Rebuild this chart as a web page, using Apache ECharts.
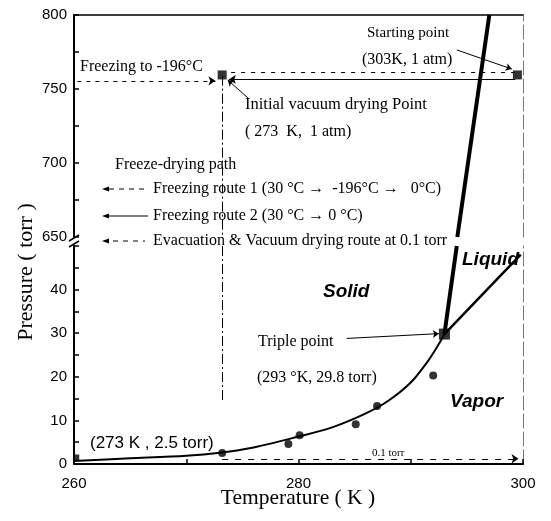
<!DOCTYPE html>
<html><head><meta charset="utf-8">
<script src="https://cdn.jsdelivr.net/npm/echarts@6/dist/echarts.min.js"></script>
<style>html,body{margin:0;padding:0;background:#fff}#c{width:551px;height:521px}</style>
</head><body><div id="c"></div>
<script>
// ---- data (K, torr) ----
const sublimationK = [260, 265, 270, 273, 276, 280, 283, 286, 288, 290, 291.5, 292.5, 293];
const sublimationP = [0.7, 1.3, 1.9, 2.6, 3.8, 6.3, 8.4, 11.6, 14.5, 18.7, 23.5, 27.5, 29.8];
const vaporK = [293, 296.5, 299.8];
const vaporP = [29.8, 39.2, 48];
const meltLowK = [293, 294.1];
const meltLowP = [29.8, 50];
const meltHighK = [294.15, 297.0];
const meltHighP = [650, 800];
const dotK = [273.2, 279.1, 280.1, 285.1, 287.0, 292.0];
const dotP = [2.5, 4.6, 6.6, 9.1, 13.3, 20.3];
const cornerK = [260.2];
const cornerP = [1.5];
const tripleK = [293.0];
const tripleP = [29.8];
const upperPointK = [273.2, 299.5];
const upperPointP = [759.5, 759.5];
// routes
const route1Out = [[299.3, 761], [273.6, 761]];
const route1Back = [[260.3, 755.5], [272.6, 755.5]];
const route2 = [[299.3, 756.5], [273.8, 756.5]];
const evacUpper = [[273.2, 759], [273.2, 650]];
const evacLower = [[273.2, 50], [273.2, 14.5]];
const evacBottom = [[273.2, 1.2], [299.6, 1.2]];
// annotation arrows
const startArrow = [[294.1, 776.4], [299.0, 763.5]];
const initArrow = [[275.5, 744], [273.7, 756]];
const tripleArrow = [[284.3, 28.8], [292.5, 29.9]];
// ticks
const xTickLabels = [260, 280, 300];
const lowerYLabels = [0, 10, 20, 30, 40];
const upperYLabels = [650, 700, 750, 800];

const zip = (a, b) => a.map((v, i) => [v, b[i]]);
const sans = 'Liberation Sans';

const chart = echarts.init(document.getElementById('c'), null, {renderer: 'canvas'});

const yAxisBase = (grid, min, max, interval, labels) => ({
  gridIndex: grid, type: 'value', min, max, interval,
  axisLine: {show: true, lineStyle: {color: '#000', width: 2}},
  axisTick: {show: true, inside: true, length: 5, lineStyle: {color: '#000', width: 1.5}},
  axisLabel: {formatter: v => labels.includes(v) ? String(v) : '', color: '#000', fontFamily: sans, fontSize: 15, margin: 7},
  splitLine: {show: false}
});
const rightAxis = (grid, min, max) => ({
  gridIndex: grid, type: 'value', min, max, position: 'right',
  axisLine: {show: true, lineStyle: {color: '#777', width: 1, type: [14, 4]}},
  axisTick: {show: false}, axisLabel: {show: false}, splitLine: {show: false}
});

function linesSeries(xi, yi, coords, opts) {
  return Object.assign({
    type: 'lines', coordinateSystem: 'cartesian2d', xAxisIndex: xi, yAxisIndex: yi,
    data: [{coords: coords}], symbol: ['none', 'none'], symbolSize: 7, silent: true,
    lineStyle: {color: '#000', width: 1, opacity: 1}
  }, opts);
}

const tx = (text, x, y, font, extra) => ({
  type: 'text', x, y, silent: true,
  style: Object.assign({text, fill: '#000', font, align: 'left', verticalAlign: 'middle'}, extra || {})
});
const sf = s => s + 'px "Liberation Serif"';
const bi = s => 'italic bold ' + s + 'px "Liberation Sans"';

const option = {
  animation: false,
  backgroundColor: '#fff',
  grid: [
    {left: 74, width: 449, top: 15, height: 222},
    {left: 74, width: 449, top: 246, height: 218}
  ],
  xAxis: [
    {gridIndex: 0, type: 'value', min: 260, max: 300, position: 'top',
     axisLine: {show: true, lineStyle: {color: '#000', width: 1.5}},
     axisTick: {show: false}, axisLabel: {show: false}, splitLine: {show: false}},
    {gridIndex: 1, type: 'value', min: 260, max: 300, interval: 10,
     axisLine: {show: true, lineStyle: {color: '#000', width: 2}},
     axisTick: {show: true, inside: true, length: 5, lineStyle: {color: '#000', width: 1.5}},
     axisLabel: {formatter: v => xTickLabels.includes(v) ? String(v) : '', color: '#000', fontFamily: sans, fontSize: 15, margin: 12},
     splitLine: {show: false}}
  ],
  yAxis: [
    yAxisBase(0, 650, 800, 25, upperYLabels),
    rightAxis(0, 650, 800),
    yAxisBase(1, 0, 50, 5, lowerYLabels),
    rightAxis(1, 0, 50)
  ],
  series: [
    {type: 'line', xAxisIndex: 1, yAxisIndex: 2, data: zip(sublimationK, sublimationP), smooth: 0.3,
     showSymbol: false, lineStyle: {color: '#000', width: 2}},
    {type: 'line', xAxisIndex: 1, yAxisIndex: 2, data: zip(vaporK, vaporP), smooth: 0.3,
     showSymbol: false, lineStyle: {color: '#000', width: 2.5}},
    {type: 'line', xAxisIndex: 1, yAxisIndex: 2, data: zip(meltLowK, meltLowP),
     showSymbol: false, lineStyle: {color: '#000', width: 4}},
    {type: 'line', xAxisIndex: 0, yAxisIndex: 0, data: zip(meltHighK, meltHighP),
     showSymbol: false, lineStyle: {color: '#000', width: 4}},
    {type: 'scatter', xAxisIndex: 1, yAxisIndex: 2, data: zip(dotK, dotP), symbol: 'circle', symbolSize: 8,
     itemStyle: {color: '#000'}},
    {type: 'scatter', xAxisIndex: 1, yAxisIndex: 2, data: zip(cornerK, cornerP), symbol: 'rect', symbolSize: 6,
     itemStyle: {color: '#000'}},
    {type: 'scatter', xAxisIndex: 1, yAxisIndex: 2, data: zip(tripleK, tripleP), symbol: 'rect', symbolSize: 11,
     itemStyle: {color: '#000'}, z: 5},
    {type: 'scatter', xAxisIndex: 0, yAxisIndex: 0, data: zip(upperPointK, upperPointP), symbol: 'rect', symbolSize: 9,
     itemStyle: {color: '#000'}, z: 5},
    linesSeries(0, 0, route1Out, {lineStyle: {color: '#000', width: 1, type: [4, 6], opacity: 1}}),
    linesSeries(0, 0, route1Back, {symbol: ['none', 'arrow'], lineStyle: {color: '#000', width: 1, type: [4, 5], opacity: 1}}),
    linesSeries(0, 0, route2, {symbol: ['none', 'arrow'], lineStyle: {color: '#000', width: 1.2, opacity: 1}}),
    linesSeries(0, 0, evacUpper, {lineStyle: {color: '#000', width: 1, type: [10, 3, 2, 3], opacity: 1}}),
    linesSeries(1, 2, evacLower, {lineStyle: {color: '#000', width: 1, type: [10, 3, 2, 3], opacity: 1}}),
    linesSeries(1, 2, evacBottom, {symbol: ['none', 'arrow'], lineStyle: {color: '#000', width: 1, type: [6, 7], opacity: 1}}),
    linesSeries(0, 0, startArrow, {symbol: ['none', 'arrow'], symbolSize: 6}),
    linesSeries(0, 0, initArrow, {symbol: ['none', 'arrow'], symbolSize: 6}),
    linesSeries(1, 2, tripleArrow, {symbol: ['none', 'arrow'], symbolSize: 6})
  ],
  graphic: [
    // axis break marks
    {type: 'line', silent: true, shape: {x1: 69, y1: 241, x2: 79, y2: 235}, style: {stroke: '#000', lineWidth: 1.5}},
    {type: 'line', silent: true, shape: {x1: 69, y1: 247, x2: 79, y2: 241}, style: {stroke: '#000', lineWidth: 1.5}},
    // axis titles
    tx('Temperature ( K )', 298, 498, sf(21.5), {align: 'center'}),
    {type: 'text', x: 26, y: 272, rotation: Math.PI / 2, silent: true,
     style: {text: 'Pressure ( torr )', fill: '#000', font: sf(22), align: 'center', verticalAlign: 'middle'}},
    // annotations
    tx('Freezing to -196°C', 80, 67, sf(16)),
    tx('Starting point', 367, 33, sf(15)),
    tx('(303K, 1 atm)', 362, 60, sf(16)),
    tx('Initial vacuum drying Point', 245, 105, sf(16.5)),
    tx('( 273  K,  1 atm)', 245, 132, sf(16)),
    tx('Freeze-drying path', 115, 165, sf(16)),
    tx('Freezing route 1 (30 °C →  -196°C →   0°C)', 153, 189, sf(16)),
    tx('Freezing route 2 (30 °C → 0 °C)', 153, 216, sf(16)),
    tx('Evacuation & Vacuum drying route at 0.1 torr', 153, 241, sf(16)),
    tx('Triple point', 258, 342, sf(16)),
    tx('(293 °K, 29.8 torr)', 257, 378, sf(16)),
    tx('(273 K , 2.5 torr)', 90, 443, '17px "Liberation Sans"'),
    tx('Liquid', 462, 260, bi(19)),
    tx('Solid', 323, 292, bi(19)),
    tx('Vapor', 450, 402, bi(19)),
    tx('0.1 torr', 372, 453, sf(11)),
    // legend keys
    {type: 'polygon', silent: true, shape: {points: [[102, 189], [109, 186.5], [109, 191.5]]}, style: {fill: '#000'}},
    {type: 'line', silent: true, shape: {x1: 109, y1: 189, x2: 145, y2: 189}, style: {stroke: '#000', lineWidth: 1, lineDash: [5, 5]}},
    {type: 'polygon', silent: true, shape: {points: [[102, 216], [109, 213.5], [109, 218.5]]}, style: {fill: '#000'}},
    {type: 'line', silent: true, shape: {x1: 109, y1: 216, x2: 148, y2: 216}, style: {stroke: '#000', lineWidth: 1.2}},
    {type: 'polygon', silent: true, shape: {points: [[102, 241], [109, 238.5], [109, 243.5]]}, style: {fill: '#000'}},
    {type: 'line', silent: true, shape: {x1: 113, y1: 241, x2: 145, y2: 241}, style: {stroke: '#000', lineWidth: 1, lineDash: [5, 5]}}
  ]
};
chart.setOption(option);
</script>
</body></html>
